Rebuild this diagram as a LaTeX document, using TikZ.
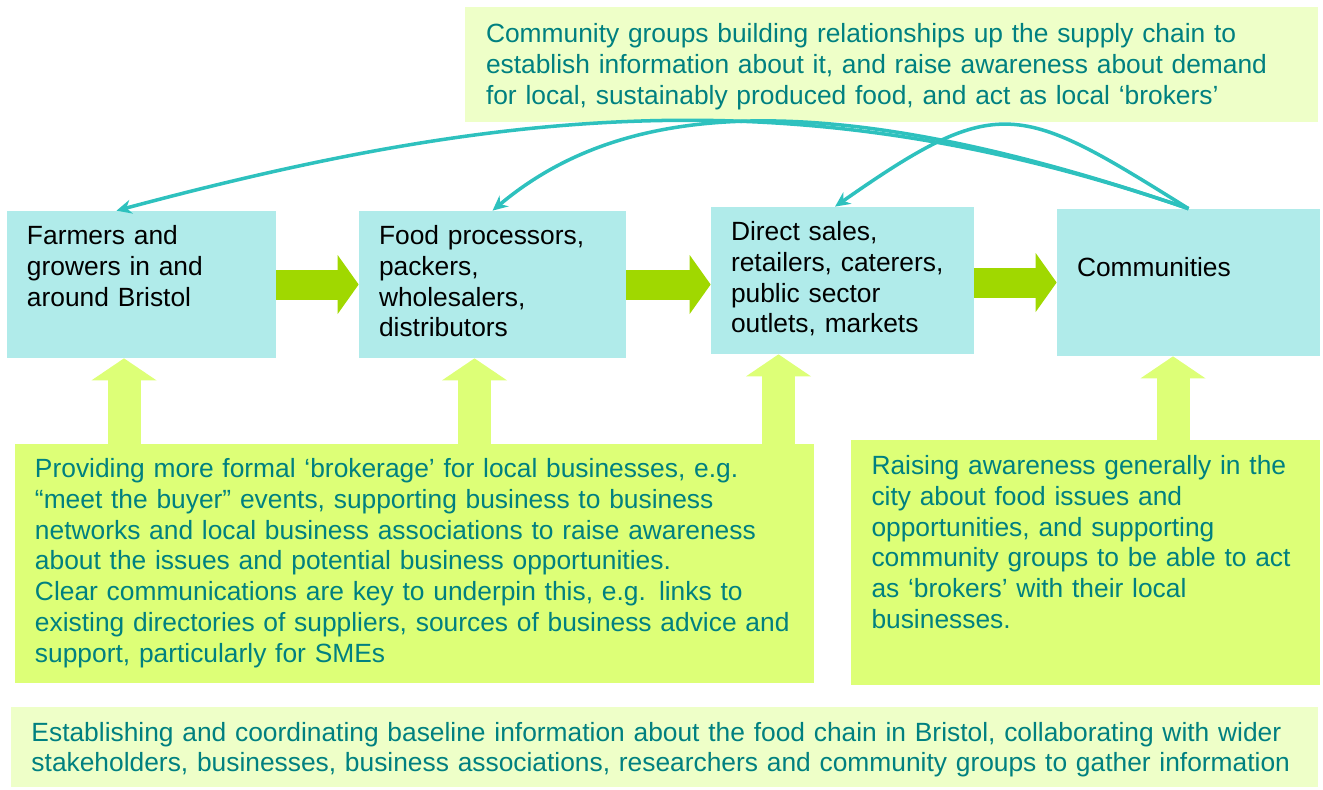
\documentclass[tikz,border=0pt]{standalone}
\usepackage{fontspec}
\setmainfont{Liberation Sans}
\usetikzlibrary{arrows.meta}
\definecolor{boxcyan}{RGB}{176,235,234}
\definecolor{boxpale}{RGB}{238,255,200}
\definecolor{boxlime}{RGB}{221,255,119}
\definecolor{flowgreen}{RGB}{160,216,0}
\definecolor{linkteal}{RGB}{46,193,190}
\definecolor{textteal}{RGB}{0,128,128}
\begin{document}
\begin{tikzpicture}[
  stage/.style={rectangle, fill=boxcyan, inner sep=0, minimum height=2.94cm},
  note/.style={rectangle, inner sep=0},
  words/.style={anchor=base west, inner sep=0, align=left, text width=28cm, font=\fontsize{15}{17.5}\selectfont},
  flow/.style={flowgreen, line width=0.6cm, -{Triangle[width=1.18cm,length=0.42cm,line width=0pt]}},
  lift/.style={boxlime, line width=0.66cm, -{Triangle[width=1.30cm,length=0.44cm,line width=0pt]}},
  link/.style={linkteal, line width=2pt, -{Stealth[length=3mm,width=2.8mm]}}
]
\useasboundingbox (0,0) rectangle (26.46,-15.78);
\node[note, fill=boxpale, minimum width=17.06cm, minimum height=2.30cm] (top) at (17.83,-1.29){};
\node[stage, minimum width=5.38cm] (farm) at (2.83,-5.69){};
\node[stage, minimum width=5.34cm] (food) at (9.85,-5.69){};
\node[stage, minimum width=5.26cm] (direct) at (16.85,-5.61){};
\node[stage, minimum width=5.26cm] (comm) at (23.77,-5.65){};
\node[note, fill=boxlime, minimum width=15.98cm, minimum height=4.78cm] (bleft) at (8.29,-11.27){};
\node[note, fill=boxlime, minimum width=9.38cm, minimum height=4.90cm] (bright) at (21.71,-11.25){};
\node[note, fill=boxpale, minimum width=26.14cm, minimum height=1.60cm] (bottom) at (13.29,-14.94){};
\node[words, textteal] (toptxt) at ([shift={(0.42,-0.72)}]top.north west){Community groups building relationships up the supply chain to\\establish information about it, and raise awareness about demand\\for local, sustainably produced food, and act as local ‘brokers’};
\node[words] (farmtxt) at ([shift={(0.4,-0.68)}]farm.north west){Farmers and\\growers in and\\around Bristol};
\node[words] (foodtxt) at ([shift={(0.4,-0.68)}]food.north west){Food processors,\\packers,\\wholesalers,\\distributors};
\node[words] (directtxt) at ([shift={(0.4,-0.68)}]direct.north west){Direct sales,\\retailers, caterers,\\public sector\\outlets, markets};
\node[words] (commtxt) at ([shift={(0.4,-1.36)}]comm.north west){Communities};
\node[words, textteal] (blefttxt) at ([shift={(0.4,-0.68)}]bleft.north west){Providing more formal ‘brokerage’ for local businesses, e.g.\\“meet the buyer” events, supporting business to business\\networks and local business associations to raise awareness\\about the issues and potential business opportunities.\\Clear communications are key to underpin this, e.g. links to\\existing directories of suppliers, sources of business advice and\\support, particularly for SMEs};
\node[words, textteal] (brighttxt) at ([shift={(0.41,-0.70)}]bright.north west){Raising awareness generally in the\\city about food issues and\\opportunities, and supporting\\community groups to be able to act\\as ‘brokers’ with their local\\businesses.};
\node[words, textteal] (bottomtxt) at ([shift={(0.41,-0.69)}]bottom.north west){Establishing and coordinating baseline information about the food chain in Bristol, collaborating with wider\\stakeholders, businesses, business associations, researchers and community groups to gather information};
\draw[flow] (farm.east) -- (food.west);
\draw[flow] (food.east) -- (food.east -| direct.west);
\draw[flow] (comm.west -| direct.east) -- (comm.west);
\coordinate (up1) at (2.48,-8.88);
\coordinate (up2) at (9.49,-8.88);
\coordinate (up3) at (15.57,-8.88);
\coordinate (up4) at (23.46,-8.80);
\draw[lift] (up1) -- (up1 |- farm.south);
\draw[lift] (up2) -- (up2 |- food.south);
\draw[lift] (up3) -- (up3 |- direct.south);
\draw[lift] (up4) -- (up4 |- comm.south);
\draw[link] (comm.north) .. controls +(161:8.1cm) and +(15:8.1cm) .. ([xshift=-5mm]farm.north);
\draw[link] (comm.north) .. controls +(161:8.4cm) and +(40:3.0cm) .. (food.north);
\draw[link] (comm.north) .. controls +(148:4cm) and +(35:4cm) .. ([xshift=-1.5mm]direct.north);
\end{tikzpicture}
\end{document}
